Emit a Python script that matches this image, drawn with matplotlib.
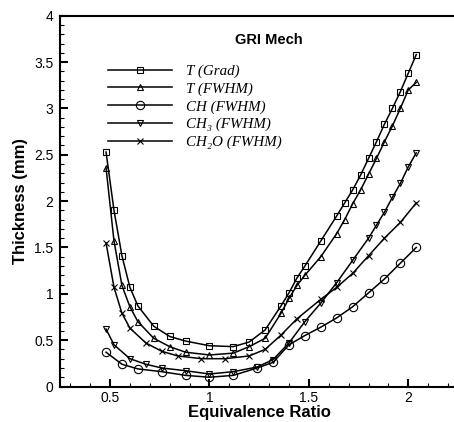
import matplotlib
matplotlib.use("Agg")
import matplotlib.pyplot as plt
from matplotlib.ticker import MultipleLocator, FormatStrFormatter

# data
x_tgrad = [0.48, 0.52, 0.56, 0.6, 0.64, 0.72, 0.8, 0.88, 1.0, 1.12, 1.2, 1.28, 1.36, 1.4,
           1.44, 1.48, 1.56, 1.64, 1.68, 1.72, 1.76, 1.8, 1.84, 1.88, 1.92, 1.96, 2.0, 2.04]
y_tgrad = [2.53, 1.90, 1.41, 1.07, 0.87, 0.65, 0.54, 0.49, 0.44, 0.43, 0.48, 0.61, 0.87, 1.01,
           1.17, 1.30, 1.57, 1.84, 1.98, 2.12, 2.28, 2.46, 2.64, 2.83, 3.00, 3.18, 3.38, 3.58]

x_tfwhm = x_tgrad
y_tfwhm = [2.36, 1.57, 1.09, 0.86, 0.70, 0.52, 0.43, 0.37, 0.34, 0.36, 0.43, 0.52, 0.79, 0.95,
           1.09, 1.20, 1.40, 1.65, 1.80, 1.97, 2.12, 2.29, 2.46, 2.64, 2.81, 3.00, 3.20, 3.28]

x_ch = [0.48, 0.56, 0.64, 0.76, 0.88, 1.0, 1.12, 1.24, 1.32, 1.4, 1.48, 1.56, 1.64, 1.72,
        1.8, 1.88, 1.96, 2.04]
y_ch = [0.37, 0.24, 0.19, 0.16, 0.12, 0.10, 0.12, 0.20, 0.26, 0.45, 0.55, 0.64, 0.74, 0.86,
        1.01, 1.16, 1.33, 1.50]

x_ch3 = [0.48, 0.52, 0.6, 0.68, 0.76, 0.88, 1.0, 1.12, 1.24, 1.32, 1.4, 1.48, 1.56, 1.64,
         1.72, 1.8, 1.84, 1.88, 1.92, 1.96, 2.0, 2.04]
y_ch3 = [0.62, 0.45, 0.30, 0.24, 0.20, 0.17, 0.135, 0.16, 0.21, 0.29, 0.47, 0.70, 0.90, 1.12,
         1.36, 1.60, 1.74, 1.88, 2.04, 2.19, 2.37, 2.52]

x_ch2o = [0.48, 0.52, 0.56, 0.6, 0.68, 0.76, 0.84, 0.96, 1.08, 1.2, 1.28, 1.36, 1.44, 1.56,
          1.64, 1.72, 1.8, 1.88, 1.96, 2.04]
y_ch2o = [1.55, 1.07, 0.79, 0.63, 0.47, 0.38, 0.33, 0.30, 0.30, 0.33, 0.40, 0.555, 0.73, 0.94,
          1.07, 1.22, 1.41, 1.60, 1.77, 1.98]

labels = ['T (Grad)', 'T (FWHM)', 'CH (FWHM)', 'CH\u2083 (FWHM)', 'CH\u2082O (FWHM)']

plt.rcParams['font.family'] = ['Liberation Sans', 'DejaVu Sans']

fig = plt.figure(figsize=(4.54, 4.22), dpi=100)
ax = fig.add_axes([60.3 / 454, 35.5 / 422, 397.7 / 454, 370.8 / 422])

style = dict(color='black', lw=1.1, mfc='none', mec='black', mew=0.8)
ax.plot(x_tgrad, y_tgrad, marker='s', ms=5, label=labels[0], **style)
ax.plot(x_tfwhm, y_tfwhm, marker='^', ms=5, label=labels[1], **style)
ax.plot(x_ch, y_ch, marker='o', ms=6, label=labels[2], **style)
ax.plot(x_ch3, y_ch3, marker='v', ms=5, label=labels[3], **style)
ax.plot(x_ch2o, y_ch2o, marker='x', ms=5, label=labels[4], **style)

ax.set_xlim(0.25, 2.25)
ax.set_ylim(0, 4)
ax.xaxis.set_major_locator(MultipleLocator(0.5))
ax.xaxis.set_minor_locator(MultipleLocator(0.1))
ax.yaxis.set_major_locator(MultipleLocator(0.5))
ax.yaxis.set_minor_locator(MultipleLocator(0.1))
ax.xaxis.set_major_formatter(FormatStrFormatter('%g'))
ax.yaxis.set_major_formatter(FormatStrFormatter('%g'))
ax.tick_params(which='both', direction='in', top=False, right=False, labelsize=10,
               colors='black')
ax.tick_params(which='major', length=6, width=1.5)
ax.tick_params(which='minor', length=3, width=0.8)
ax.tick_params(axis='x', pad=3.5)
ax.tick_params(axis='y', pad=5)
for s in ax.spines.values():
    s.set_linewidth(1.5)

ax.set_xlabel('Equivalence Ratio', fontsize=12, fontweight='bold', labelpad=0)
ax.set_ylabel('Thickness (mm)', fontsize=12, fontweight='bold', labelpad=4)
ax.text(0.525, 0.935, 'GRI Mech', transform=ax.transAxes, ha='center', va='center',
        fontsize=10.5, fontweight='bold')

leg = ax.legend(loc='upper left', bbox_to_anchor=(0.085, 0.905), frameon=False,
                handlelength=4.3, handletextpad=0.9, labelspacing=0.27, numpoints=1,
                prop={'family': ['Liberation Serif', 'DejaVu Serif'], 'style': 'italic',
                      'size': 10.8})

fig.savefig('out.png', dpi=100)
